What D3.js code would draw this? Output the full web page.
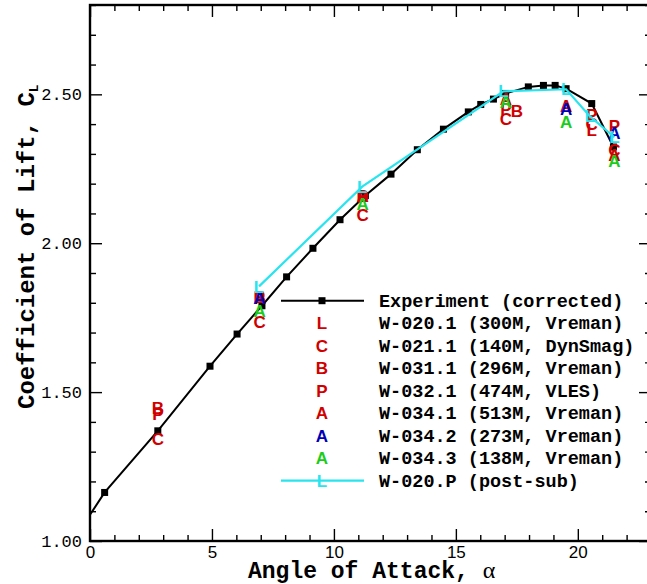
<!DOCTYPE html>
<html lang="en">
<head>
<meta charset="utf-8">
<script src="https://d3js.org/d3.v7.min.js"></script>
<style>
    body { margin: 0; background: #fff; }
    .axis .domain { display: none; }
    .axis line { stroke: #000; stroke-width: 1.4px; }
    .axis--x text {
        font-family: "Liberation Sans", Arial, sans-serif;
        font-size: 17px;
        fill: #000;
    }
    .axis--y text {
        font-family: "Liberation Mono", "Courier New", monospace;
        font-size: 17px;
        fill: #000;
    }
    .title {
        font-family: "Liberation Mono", "Courier New", monospace;
        font-size: 23px;
        font-weight: bold;
        fill: #000;
    }
    .sym {
        font-family: "Liberation Sans", Arial, sans-serif;
        font-size: 17px;
        font-weight: bold;
    }
    .legend text.lab {
        font-family: "Liberation Mono", "Courier New", monospace;
        font-size: 18.5px;
        font-weight: bold;
        fill: #000;
    }
</style>
</head>
<body>
<div id="chart"></div>
<script>
    // experiment (corrected)
    var expAlpha = [-1.0, 0.6, 2.78, 4.92, 6.03, 7.05, 8.06, 9.14, 10.25, 11.29, 12.34, 13.42,
                    14.49, 15.51, 16.02, 16.54, 17.04, 17.97, 18.59, 19.07, 19.52, 20.57, 21.46];
    var expCL = [0.963, 1.163, 1.37, 1.587, 1.695, 1.79, 1.887, 1.983, 2.079, 2.16, 2.232, 2.314,
                 2.383, 2.441, 2.466, 2.484, 2.503, 2.525, 2.53, 2.53, 2.519, 2.469, 2.323];

    // simulation cases
    var w0201Alpha = [20.57];
    var w0201CL = [2.38];
    var w0211Alpha = [2.78, 6.95, 11.18, 17.05, 20.57, 21.5];
    var w0211CL = [1.342, 1.736, 2.095, 2.416, 2.40, 2.315];
    var w0311Alpha = [2.78, 6.95, 11.18, 17.5];
    var w0311CL = [1.448, 1.82, 2.16, 2.446];
    var w0321Alpha = [2.78, 6.95, 11.18, 17.05, 20.57, 21.5];
    var w0321CL = [1.428, 1.815, 2.155, 2.45, 2.43, 2.393];
    var w0341Alpha = [6.95, 11.18, 17.05, 19.52, 21.5];
    var w0341CL = [1.818, 2.158, 2.485, 2.462, 2.298];
    var w0342Alpha = [6.95, 19.52, 21.5];
    var w0342CL = [1.815, 2.45, 2.369];
    var w0343Alpha = [6.95, 11.18, 17.05, 19.52, 21.5];
    var w0343CL = [1.772, 2.133, 2.475, 2.407, 2.275];
    var w020PAlpha = [6.93, 11.16, 16.95, 19.52, 20.5, 21.5];
    var w020PCL = [1.855, 2.19, 2.51, 2.517, 2.426, 2.356];

    var xMajor = [0, 5, 10, 15, 20];
    var yMajor = [1.0, 1.5, 2.0, 2.5];

    var legendLabels = ["Experiment (corrected)", "W-020.1 (300M, Vreman)", "W-021.1 (140M, DynSmag)",
        "W-031.1 (296M, Vreman)", "W-032.1 (474M, VLES)", "W-034.1 (513M, Vreman)",
        "W-034.2 (273M, Vreman)", "W-034.3 (138M, Vreman)", "W-020.P (post-sub)"];

    var red = "#d00000", blue = "#0000b4", green = "#1ccc1c", cyan = "#28e4ee";

    var cases = [
        { letter: "L", color: red, a: w0201Alpha, c: w0201CL },
        { letter: "C", color: red, a: w0211Alpha, c: w0211CL },
        { letter: "B", color: red, a: w0311Alpha, c: w0311CL },
        { letter: "P", color: red, a: w0321Alpha, c: w0321CL },
        { letter: "A", color: red, a: w0341Alpha, c: w0341CL },
        { letter: "A", color: blue, a: w0342Alpha, c: w0342CL },
        { letter: "A", color: green, a: w0343Alpha, c: w0343CL }
    ];

    var W = 647, H = 584;
    var pLeft = 90, pTop = 5, pRight = 651, pBottom = 541;

    var x = d3.scaleLinear().domain([0, 23]).range([pLeft, pRight]);
    var y = d3.scaleLinear().domain([1.0, 2.8]).range([pBottom, pTop]);

    var svg = d3.select("#chart").append("svg")
        .attr("width", W)
        .attr("height", H);

    svg.append("defs").append("clipPath").attr("id", "plotclip")
        .append("rect")
        .attr("x", pLeft).attr("y", pTop)
        .attr("width", pRight - pLeft).attr("height", pBottom - pTop);

    var xMinor = d3.range(0, 24).filter(function(d) { return d % 5 !== 0; });
    var yMinor = d3.range(10, 29).map(function(d) { return d / 10; })
        .filter(function(d) { return Math.round(d * 10) % 5 !== 0; });

    // ticks, all pointing into the plot
    svg.append("g").attr("class", "axis axis--x")
        .attr("transform", "translate(0," + pBottom + ")")
        .call(d3.axisBottom(x).tickValues(xMajor).tickSize(-12).tickPadding(5)
            .tickFormat(d3.format("d")));
    svg.append("g").attr("class", "axis")
        .attr("transform", "translate(0," + pBottom + ")")
        .call(d3.axisBottom(x).tickValues(xMinor).tickSize(-6).tickFormat(""));
    svg.append("g").attr("class", "axis")
        .attr("transform", "translate(0," + pTop + ")")
        .call(d3.axisTop(x).tickValues(xMajor).tickSize(-12).tickFormat(""));
    svg.append("g").attr("class", "axis")
        .attr("transform", "translate(0," + pTop + ")")
        .call(d3.axisTop(x).tickValues(xMinor).tickSize(-6).tickFormat(""));

    svg.append("g").attr("class", "axis axis--y")
        .attr("transform", "translate(" + pLeft + ",0)")
        .call(d3.axisLeft(y).tickValues(yMajor).tickSize(-12).tickPadding(8)
            .tickFormat(d3.format(".2f")));
    svg.append("g").attr("class", "axis")
        .attr("transform", "translate(" + pLeft + ",0)")
        .call(d3.axisLeft(y).tickValues(yMinor).tickSize(-6).tickFormat(""));
    svg.append("g").attr("class", "axis")
        .attr("transform", "translate(" + pRight + ",0)")
        .call(d3.axisRight(y).tickValues(yMajor).tickSize(-12).tickFormat(""));
    svg.append("g").attr("class", "axis")
        .attr("transform", "translate(" + pRight + ",0)")
        .call(d3.axisRight(y).tickValues(yMinor).tickSize(-6).tickFormat(""));

    // frame
    svg.append("rect")
        .attr("x", pLeft).attr("y", pTop)
        .attr("width", pRight - pLeft).attr("height", pBottom - pTop)
        .attr("fill", "none").attr("stroke", "#000").attr("stroke-width", 2.4);

    var plot = svg.append("g").attr("clip-path", "url(#plotclip)");

    var line = d3.line()
        .x(function(d) { return x(d[0]); })
        .y(function(d) { return y(d[1]); });

    var expData = d3.zip(expAlpha, expCL);
    plot.append("path")
        .datum(expData)
        .attr("fill", "none").attr("stroke", "#000").attr("stroke-width", 2)
        .attr("d", line);
    plot.selectAll("rect.exp")
        .data(expData.filter(function(d) { return d[0] >= 0; }))
        .enter().append("rect")
        .attr("class", "exp")
        .attr("x", function(d) { return x(d[0]) - 3.5; })
        .attr("y", function(d) { return y(d[1]) - 3.5; })
        .attr("width", 7).attr("height", 7)
        .attr("fill", "#000");

    cases.forEach(function(cs) {
        plot.append("g").selectAll("text")
            .data(d3.zip(cs.a, cs.c))
            .enter().append("text")
            .attr("class", "sym")
            .attr("x", function(d) { return x(d[0]); })
            .attr("y", function(d) { return y(d[1]); })
            .attr("dy", "0.36em")
            .attr("text-anchor", "middle")
            .attr("fill", cs.color)
            .text(cs.letter);
    });

    var postData = d3.zip(w020PAlpha, w020PCL);
    plot.append("path")
        .datum(postData)
        .attr("fill", "none").attr("stroke", cyan).attr("stroke-width", 2.2)
        .attr("d", line);
    plot.append("g").selectAll("text")
        .data(postData)
        .enter().append("text")
        .attr("class", "sym")
        .attr("x", function(d) { return x(d[0]); })
        .attr("y", function(d) { return y(d[1]); })
        .attr("dy", "0.36em")
        .attr("text-anchor", "middle")
        .attr("fill", cyan)
        .text("L");

    // legend
    var legX = 322, legY = 300.7, legStep = 22.5;
    var legend = svg.selectAll(".legend")
        .data(legendLabels)
        .enter().append("g")
        .attr("class", "legend")
        .attr("transform", function(d, i) { return "translate(" + legX + "," + (legY + i * legStep) + ")"; });

    legend.append("text")
        .attr("class", "lab")
        .attr("x", 57)
        .attr("dy", "0.33em")
        .text(function(d) { return d; });

    legend.each(function(d, i) {
        var g = d3.select(this);
        if (i === 0 || i === legendLabels.length - 1) {
            g.append("line")
                .attr("x1", -41).attr("x2", 42)
                .attr("stroke", i === 0 ? "#000" : cyan)
                .attr("stroke-width", i === 0 ? 2 : 2.2);
        }
        if (i === 0) {
            g.append("rect").attr("x", -3.5).attr("y", -3.5)
                .attr("width", 7).attr("height", 7).attr("fill", "#000");
        } else {
            var cs = i < legendLabels.length - 1 ? cases[i - 1] : { letter: "L", color: cyan };
            g.append("text")
                .attr("class", "sym")
                .attr("dy", "0.36em")
                .attr("text-anchor", "middle")
                .attr("fill", cs.color)
                .text(cs.letter);
        }
    });

    // axis titles
    var xt = svg.append("text")
        .attr("class", "title")
        .attr("x", 248).attr("y", 578);
    xt.append("tspan").text("Angle of Attack, ");
    xt.append("tspan")
        .style("font-family", "'Liberation Serif', 'Times New Roman', serif")
        .style("font-weight", "normal")
        .style("font-size", "24px")
        .text("\u03b1");

    var yt = svg.append("text")
        .attr("class", "title")
        .style("font-size", "24px")
        .attr("transform", "translate(34,409) rotate(-90)");
    yt.append("tspan").text("Coefficient of Lift, C");
    yt.append("tspan")
        .attr("dy", 4)
        .style("font-size", "13px")
        .text("L");
</script>
</body>
</html>
